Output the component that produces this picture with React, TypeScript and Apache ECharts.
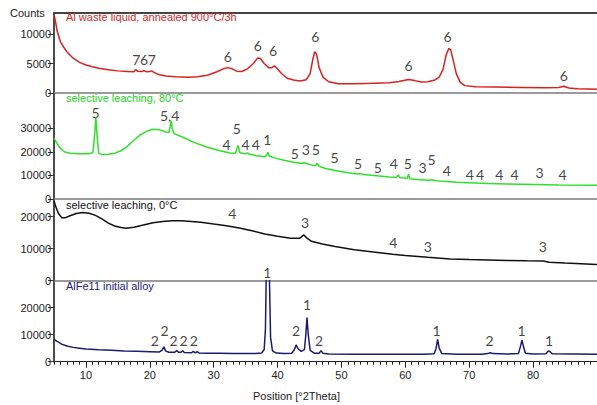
import React, { useEffect, useRef } from "react";
import * as echarts from "echarts";

// ---- data (2θ in degrees, intensity in counts) ----
const X_MIN = 5;
const X_MAX = 90;

const annealedSeries: [number, number][] = [
  [5, 13300], [5.2, 12300], [5.5, 10500], [6, 8700], [6.5, 7800], [7, 7000], [8, 5900], [9, 5200],
  [10, 4750], [11, 4450], [12, 4200], [13.5, 3950], [15, 3750], [16.5, 3650], [17.5, 3600],
  [17.8, 3950], [18.1, 3700], [18.8, 3650], [19.1, 3800], [19.5, 3600], [20, 3650], [20.3, 3750],
  [20.7, 3450], [21.5, 3100], [22.5, 2900], [24, 2750], [26, 2650], [27.5, 2750], [29, 3000],
  [30.5, 3600], [31.5, 4100], [32.2, 4300], [32.9, 4100], [33.6, 3700], [34.4, 3650], [35.3, 4100],
  [36.2, 5000], [36.9, 5950], [37.3, 5850], [37.9, 5000], [38.6, 4300], [39.1, 4300], [39.5, 4600],
  [39.9, 4200], [40.6, 3300], [41.5, 2500], [42.5, 2200], [43.5, 2050], [44.5, 2250], [45.1, 3300],
  [45.5, 5600], [45.8, 7000], [46.1, 6600], [46.5, 4300], [47.1, 2700], [48, 1900], [49.5, 1550],
  [52, 1550], [55, 1650], [57.5, 1750], [59, 1950], [60.5, 2300], [61.5, 2100], [62.5, 1850],
  [63.5, 1900], [64.5, 2150], [65.3, 2700], [65.9, 4000], [66.4, 6500], [66.8, 7550], [67.1, 7300],
  [67.5, 5500], [68, 3200], [68.6, 1800], [69.3, 1250], [71, 1050], [74, 1000], [78, 950],
  [82, 900], [84, 950], [84.8, 1150], [85.6, 850], [87, 700], [90, 620],
];

const leach80Series: [number, number][] = [
  [5, 25800], [5.4, 24000], [6, 21500], [6.7, 20000], [7.5, 19500], [9, 19300], [10.5, 19200],
  [11.1, 19800], [11.35, 27000], [11.55, 34600], [11.75, 27000], [12, 19500], [12.5, 18900],
  [13.5, 19000], [14.5, 19500], [15.5, 20500], [16.5, 22500], [17.5, 25000], [18.5, 27300],
  [19.5, 28800], [20.5, 29700], [21.5, 29500], [22.5, 28500], [23, 28300], [23.2, 31000],
  [23.35, 33200], [23.5, 30000], [23.8, 27800], [25, 26500], [27, 24000], [29, 22000], [31, 20500],
  [32.5, 19600], [33.4, 19500], [33.8, 22800], [34.1, 19700], [35, 19200], [35.3, 19600],
  [35.6, 19000], [36.5, 18500], [38, 18000], [38.3, 18600], [38.5, 19900], [38.7, 18300],
  [39.5, 17500], [41, 16500], [42.5, 15600], [43.8, 15100], [44.2, 15500], [44.5, 15100],
  [45.5, 14300], [46.0, 14400], [46.2, 15300], [46.5, 13900], [47.5, 13000], [49, 12100],
  [51, 11200], [52.5, 10600], [53, 10800], [53.5, 10400], [55.5, 9900], [57.5, 9400], [58.6, 9200],
  [58.9, 10200], [59.2, 9000], [60, 8900], [60.3, 8800], [60.5, 10500], [60.7, 8600], [62, 8300],
  [63.5, 8000], [64.2, 8200], [64.8, 7800], [66, 7500], [68, 7100], [70, 6900], [73, 6600],
  [76, 6400], [80, 6200], [84, 6000], [90, 5800],
];

const leach0Series: [number, number][] = [
  [5, 25000], [5.3, 23000], [5.7, 21000], [6.2, 19700], [6.8, 19700], [7.5, 20300], [8.5, 21000],
  [9.5, 21300], [10.5, 21100], [11.5, 20400], [12.5, 19300], [13.5, 18000], [14.5, 17100],
  [15.5, 16600], [16.3, 16400], [17.5, 16700], [19, 17400], [20.5, 18100], [22, 18500],
  [23.5, 18750], [25, 18700], [26.5, 18500], [28, 18300], [30, 17700], [32, 17200], [34, 16500],
  [36, 15600], [38, 14600], [40, 13900], [42, 13300], [43.5, 13300], [44.1, 14300], [44.6, 13300],
  [45.3, 12300], [47, 11500], [49, 10700], [52, 9700], [55, 9000], [58, 8300], [60, 7900],
  [63.5, 7300], [67, 6800], [70, 6600], [73, 6450], [76, 6300], [79, 6200], [81.6, 6150],
  [82.5, 5800], [85, 5500], [90, 5100],
];

const alloySeries: [number, number][] = [
  [5, 8300], [5.5, 7500], [6.2, 6500], [7, 5800], [8, 5300], [9, 5000], [10, 4700], [12, 4400],
  [14, 4200], [16, 4000], [18, 3850], [20, 3700], [21.5, 3600], [21.9, 4200], [22.2, 5500],
  [22.5, 3900], [23, 3500], [23.9, 3500], [24.2, 4100], [24.5, 3500], [24.9, 3500], [25.15, 4000],
  [25.4, 3400], [26.5, 3300], [26.8, 3800], [27.1, 3300], [27.4, 3700], [27.7, 3250], [29, 3150],
  [31, 3100], [33, 3050], [35, 3000], [36.5, 3000], [37.5, 3200], [37.9, 4500], [38.1, 12000],
  [38.3, 45000], [38.45, 60000], [38.65, 40000], [38.9, 9000], [39.2, 4000], [39.8, 3200],
  [41, 3000], [42.2, 3100], [42.6, 4300], [42.9, 6200], [43.2, 4800], [43.7, 3800], [44.2, 4500],
  [44.4, 9500], [44.6, 16300], [44.8, 10000], [45.1, 4200], [45.8, 3100], [46.5, 3100],
  [46.8, 4100], [47.1, 3100], [48, 2850], [52, 2800], [56, 2800], [60, 2800], [63, 2800],
  [64.5, 2900], [64.8, 4800], [65.05, 8300], [65.3, 5000], [65.7, 3000], [68, 2800], [72, 2800],
  [72.9, 3000], [73.3, 3300], [73.7, 3000], [76, 2850], [77.7, 3000], [78.0, 5500], [78.25, 8000],
  [78.5, 5500], [78.8, 3100], [80, 2850], [82, 2900], [82.4, 4000], [82.7, 3600], [83, 2900],
  [86, 2850], [90, 2800],
];

// phase markers: [2θ, counts, label]
const annealedMarks: [number, number, string][] = [
  [17.9, 5600, "7"], [19.1, 5600, "6"], [20.3, 5600, "7"], [32.2, 6150, "6"], [36.9, 7970, "6"],
  [39.3, 7120, "6"], [45.9, 9540, "6"], [60.5, 4580, "6"], [66.6, 9660, "6"], [84.8, 3000, "6"],
];
const leach80Marks: [number, number, string][] = [
  [11.5, 36900, "5"], [23.1, 35700, "5,4"], [32.0, 23300, "4"], [33.6, 30100, "5"],
  [35.0, 23300, "4"], [36.6, 23300, "4"], [38.4, 25400, "1"], [42.7, 19400, "5"],
  [44.4, 21100, "3"], [46.0, 21100, "5"], [48.9, 17600, "5"], [52.6, 15200, "5"],
  [55.7, 13300, "5"], [58.2, 14900, "4"], [60.4, 15200, "5"], [62.7, 13300, "3"],
  [64.1, 17000, "5"], [66.5, 12300, "4"], [70.1, 10600, "4"], [71.7, 10600, "4"],
  [74.7, 10600, "4"], [77.1, 10600, "4"], [81.0, 11400, "3"], [84.6, 10600, "4"],
];
const leach0Marks: [number, number, string][] = [
  [32.9, 21100, "4"], [44.3, 18200, "3"], [58.1, 12000, "4"], [63.5, 10600, "3"], [81.5, 10800, "3"],
];
const alloyMarks: [number, number, string][] = [
  [20.8, 8000, "2"], [22.3, 11700, "2"], [23.7, 8000, "2"], [25.3, 8000, "2"], [26.9, 8000, "2"],
  [38.4, 33100, "1"], [42.9, 11700, "2"], [44.6, 21000, "1"], [46.5, 8000, "2"], [64.9, 11700, "1"],
  [73.2, 8000, "2"], [78.2, 11700, "1"], [82.5, 8000, "1"],
];

const panelTitles = [
  "Al waste liquid, annealed 900°C/3h",
  "selective leaching, 80°C",
  "selective leaching, 0°C",
  "AlFe11 initial alloy",
];
const yTickValues = [
  [0, 5000, 10000],
  [0, 10000, 20000, 30000],
  [0, 10000, 20000],
  [0, 10000, 20000],
];
const yMaxValues = [13560, 45100, 25530, 29970];
const xMajorTicks = [10, 20, 30, 40, 50, 60, 70, 80];
const xMinorTicks = [
  5, 6, 7, 8, 9, 10, 11, 12, 13, 14, 15, 16, 17, 18, 19, 20, 21, 22, 23, 24, 25, 26, 27, 28, 29, 30,
  31, 32, 33, 34, 35, 36, 37, 38, 39, 40, 41, 42, 43, 44, 45, 46, 47, 48, 49, 50, 51, 52, 53, 54, 55,
  56, 57, 58, 59, 60, 61, 62, 63, 64, 65, 66, 67, 68, 69, 70, 71, 72, 73, 74, 75, 76, 77, 78, 79, 80,
  81, 82, 83, 84, 85, 86, 87, 88, 89,
];
const yAxisName = "Counts";
const xAxisName = "Position [°2Theta]";

export default function App() {
  const ref = useRef<HTMLDivElement>(null);

  useEffect(() => {
    document.body.style.margin = "0";
    if (!ref.current) return;
    const chart = echarts.init(ref.current, undefined, { renderer: "svg" });

    const seriesData = [annealedSeries, leach80Series, leach0Series, alloySeries];
    const marks = [annealedMarks, leach80Marks, leach0Marks, alloyMarks];
    const lineColors = ["#d92020", "#2ee02a", "#111111", "#1c1c6e"];
    const titleColors = ["#d42a2a", "#22d622", "#111111", "#22227a"];
    const gridBoxes = [
      { top: 13, height: 80 },
      { top: 93, height: 106 },
      { top: 199, height: 81.7 },
      { top: 280.7, height: 81 },
    ];
    const titleTops = [11, 92, 199, 280];
    const font = "'Liberation Sans', Arial, sans-serif";

    const xAxes: any[] = gridBoxes.map((_, i) => ({
      type: "value",
      gridIndex: i,
      min: X_MIN,
      max: X_MAX,
      position: "bottom",
      axisLine: {
        show: true,
        onZero: false,
        lineStyle: { color: i === 3 ? "#222" : "#7a7a7a", width: i === 3 ? 1.2 : 1.5 },
      },
      axisTick: {
        show: i === 3,
        customValues: xMajorTicks,
        length: 6,
        lineStyle: { color: "#222" },
      },
      axisLabel: {
        show: i === 3,
        customValues: xMajorTicks,
        fontSize: 11,
        color: "#222",
        fontFamily: font,
        margin: 8,
      },
      splitLine: { show: false },
    }));
    xAxes.push({
      type: "value",
      gridIndex: 3,
      min: X_MIN,
      max: X_MAX,
      position: "bottom",
      axisLine: { show: false, onZero: false },
      axisTick: { show: true, customValues: xMinorTicks, length: 3, lineStyle: { color: "#222" } },
      axisLabel: { show: false },
      splitLine: { show: false },
    });
    xAxes.push({
      type: "value",
      gridIndex: 0,
      min: X_MIN,
      max: X_MAX,
      position: "top",
      axisLine: { show: true, onZero: false, lineStyle: { color: "#444", width: 2 } },
      axisTick: { show: false },
      axisLabel: { show: false },
      splitLine: { show: false },
    });

    const yAxes = gridBoxes.map((_, i) => ({
      type: "value",
      gridIndex: i,
      min: 0,
      max: yMaxValues[i],
      axisLine: { show: true, lineStyle: { color: "#111", width: 1.5 } },
      axisTick: {
        show: true,
        customValues: yTickValues[i],
        length: 6,
        lineStyle: { color: "#333" },
      },
      axisLabel: {
        customValues: yTickValues[i],
        formatter: (v: number) => String(v),
        fontSize: 11,
        color: "#222",
        fontFamily: font,
        margin: 3,
      },
      splitLine: { show: false },
    }));

    const series: any[] = [];
    seriesData.forEach((d, i) => {
      series.push({
        type: "line",
        xAxisIndex: i,
        yAxisIndex: i,
        data: d,
        symbol: "none",
        showSymbol: false,
        clip: true,
        lineStyle: { color: lineColors[i], width: 1.5 },
        silent: true,
      });
    });
    marks.forEach((m, i) => {
      series.push({
        type: "scatter",
        xAxisIndex: i,
        yAxisIndex: i,
        clip: false,
        symbolSize: 1,
        itemStyle: { color: "rgba(0,0,0,0)" },
        silent: true,
        data: m.map(([x, y, t]) => ({ value: [x, y], name: t })),
        label: {
          show: true,
          position: "inside",
          formatter: "{b}",
          fontSize: 14,
          fontFamily: "Lato, 'Open Sans', sans-serif",
          color: "#111111",
        },
      });
    });

    chart.setOption({
      animation: false,
      backgroundColor: "#ffffff",
      title: panelTitles.map((t, i) => ({
        text: t,
        left: 66,
        top: titleTops[i],
        padding: 0,
        textStyle: { fontSize: 11, fontWeight: "normal", color: titleColors[i], fontFamily: font },
      })),
      grid: gridBoxes.map((g) => ({ left: 54, width: 546, top: g.top, height: g.height })),
      xAxis: xAxes,
      yAxis: yAxes,
      series,
      graphic: [
        {
          type: "text",
          left: 10,
          top: 7,
          style: { text: yAxisName, fontSize: 11, fill: "#222", fontFamily: font },
        },
        {
          type: "text",
          left: 253,
          top: 390,
          style: { text: xAxisName, fontSize: 11, fill: "#222", fontFamily: font },
        },
      ],
    });

    return () => chart.dispose();
  }, []);

  return <div ref={ref} style={{ width: 597, height: 405 }} />;
}
